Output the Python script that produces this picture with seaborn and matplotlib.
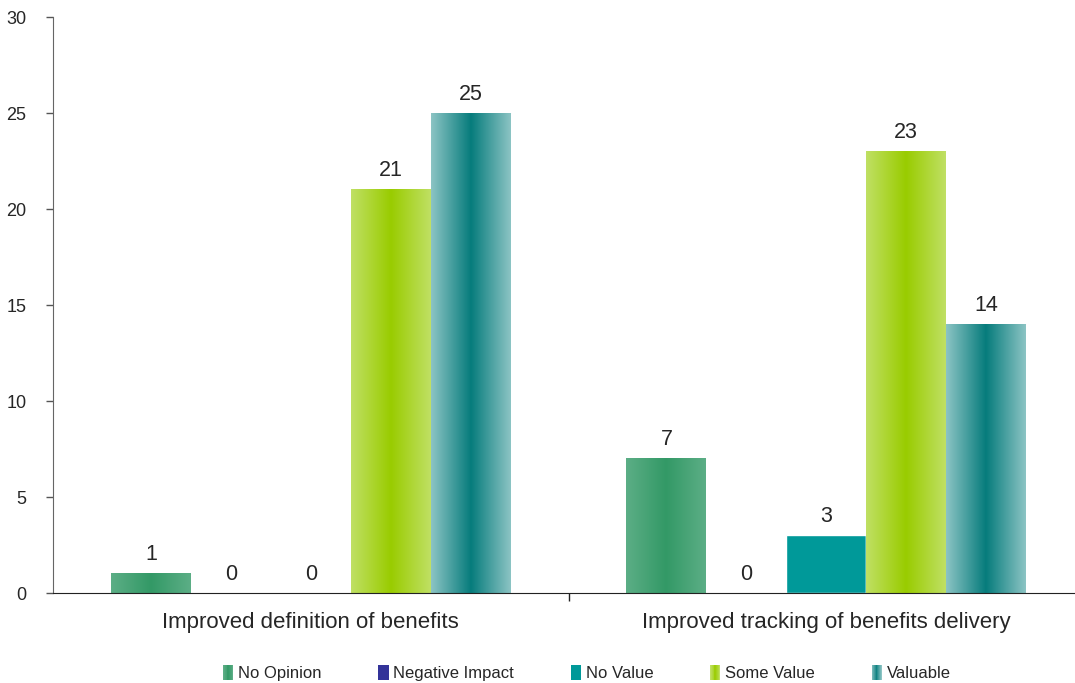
import numpy as np
import pandas as pd
import matplotlib
matplotlib.use("Agg")
import matplotlib.pyplot as plt
import matplotlib.colors as mcolors
from matplotlib.patches import Patch, Rectangle
from matplotlib.legend_handler import HandlerBase
import seaborn as sns

# dati
categorie = ["Improved definition of benefits", "Improved tracking of benefits delivery"]
risposte = ["No Opinion", "Negative Impact", "No Value", "Some Value", "Valuable"]
valori = {
    "No Opinion": [1, 7],
    "Negative Impact": [0, 0],
    "No Value": [0, 3],
    "Some Value": [21, 23],
    "Valuable": [25, 14],
}

# colori: (bordo, centro) per il gradiente orizzontale
colori = {
    "No Opinion": ("#5cae86", "#339966"),
    "Negative Impact": ("#333399", "#333399"),
    "No Value": ("#009999", "#009999"),
    "Some Value": ("#c0e064", "#99cc00"),
    "Valuable": ("#8cc4c4", "#067c7c"),
}

righe = []
for r in risposte:
    for c, v in zip(categorie, valori[r]):
        righe.append({"Categoria": c, "Risposta": r, "Valore": v})
df = pd.DataFrame(righe)


def gradiente(bordo, centro, n=200):
    b = np.array(mcolors.to_rgb(bordo))
    m = np.array(mcolors.to_rgb(centro))
    w = np.abs(np.linspace(-1, 1, n))[:, None]
    return m * (1 - w) + b * w


# maniglia della legenda con gradiente (strisce sottili)
class HandlerGradiente(HandlerBase):
    def create_artists(self, legend, orig_handle, xdescent, ydescent, width, height, fontsize, trans):
        bordo, centro = orig_handle.colori
        cols = gradiente(bordo, centro, 12)
        dw = width / len(cols)
        artisti = []
        for i, col in enumerate(cols):
            rect = Rectangle((-xdescent + i * dw, -ydescent), dw * 1.05, height,
                             facecolor=col, edgecolor="none", transform=trans)
            artisti.append(rect)
        return artisti


sns.set_style("white")
plt.rcParams["font.family"] = ["Liberation Sans", "DejaVu Sans"]

fig = plt.figure(figsize=(10.75, 6.83), dpi=100)
ax = fig.add_axes([53 / 1075, 90 / 683, 1031 / 1075, 576 / 683])

palette = {r: colori[r][1] for r in risposte}
sns.barplot(data=df, x="Categoria", y="Valore", hue="Risposta", hue_order=risposte,
            order=categorie, palette=palette, width=0.775, saturation=1, gap=0,
            legend=False, ax=ax, errorbar=None)

# gradiente sulle barre
for r, cont in zip(risposte, ax.containers):
    bordo, centro = colori[r]
    grad = gradiente(bordo, centro)[None, :, :]
    for p in cont.patches:
        h = p.get_height()
        if h <= 0 or bordo == centro:
            continue
        x0 = p.get_x()
        ax.imshow(grad, extent=(x0, x0 + p.get_width(), 0, h), aspect="auto",
                  zorder=p.get_zorder() + 0.1, interpolation="bilinear")
    ax.bar_label(cont, fmt="%d", padding=6, fontsize=15.5)

ax.set_xlim(-0.5, 1.5)
ax.set_ylim(0, 30)
ax.set_yticks(range(0, 31, 5))
ax.tick_params(axis="y", labelsize=13, length=5, width=1, color="#555555",
               direction="out", left=True, pad=14)
ax.tick_params(axis="x", labelsize=16, length=0, pad=14)
ax.set_xticks([0.5], minor=True)
ax.tick_params(axis="x", which="minor", length=6, width=1, color="#222222", direction="out", bottom=True)
ax.set_xlabel("")
ax.set_ylabel("")
for s in ["top", "right"]:
    ax.spines[s].set_visible(False)
ax.spines["left"].set_color("#666666")
ax.spines["bottom"].set_color("#222222")
ax.grid(False)

maniglie = []
for r in risposte:
    m = Patch(facecolor=colori[r][1], edgecolor="none", label=r)
    m.colori = colori[r]
    maniglie.append(m)
fig.legend(handles=maniglie, loc="center", bbox_to_anchor=(0.546, 0.015), ncol=5,
           frameon=False, fontsize=12, handlelength=0.6, handleheight=1.0,
           handletextpad=0.3, columnspacing=3.4,
           handler_map={Patch: HandlerGradiente()})

fig.savefig("out.png", dpi=100)
